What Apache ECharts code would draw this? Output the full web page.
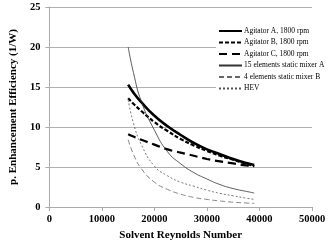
<!DOCTYPE html>
<html><head><meta charset="utf-8">
<script src="https://cdn.jsdelivr.net/npm/echarts@6/dist/echarts.min.js"></script>
<style>html,body{margin:0;padding:0;background:#fff}#c{width:335px;height:248px}</style>
</head><body><div id="c"></div>
<script>
const reynolds = [15000,16000,17500,20000,22500,25000,27500,30000,32500,35000,37500,39000];
const agitatorA = [15.3,14.3,13.1,11.4,10.1,9.0,8.0,7.2,6.6,6.0,5.5,5.25];
const agitatorB = [13.6,12.9,12.0,10.6,9.5,8.5,7.7,7.0,6.4,5.9,5.4,5.1];
const agitatorC = [9.1,8.8,8.4,7.8,7.2,6.8,6.4,6.0,5.7,5.45,5.2,5.1];
const mixer15A = [20,16.8,13.2,9.6,6.9,5.4,4.3,3.5,2.8,2.3,1.95,1.75];
const mixer4B = [8.4,6.6,4.8,3.1,2.2,1.6,1.2,0.95,0.75,0.6,0.5,0.45];
const hev = [13.4,10.5,7.8,5.1,3.9,3.1,2.6,2.1,1.7,1.4,1.1,0.95];
const names = ['Agitator A, 1800 rpm','Agitator B, 1800 rpm','Agitator C, 1800 rpm','15 elements static mixer A','4 elements static mixer B','HEV'];
const xTicks = [0,10000,20000,30000,40000,50000];
const yTicks = [0,5,10,15,20,25];

const pair = arr => reynolds.map((r,i)=>[r,arr[i]]);
const font = 'Liberation Serif';
const styles = [
  {color:'#000', width:2.6, type:'solid'},
  {color:'#000', width:2.2, type:[4,2]},
  {color:'#000', width:2.2, type:[8,5]},
  {color:'#333', width:0.8, type:'solid'},
  {color:'#666', width:0.8, type:[5,3]},
  {color:'#555', width:0.8, type:[2,2]}
];
const datasets = [agitatorA,agitatorB,agitatorC,mixer15A,mixer4B,hev];
const chart = echarts.init(document.getElementById('c'));
chart.setOption({
  animation:false,
  backgroundColor:'#fff',
  grid:{left:44,right:23,top:7,bottom:41},
  legend:{
    orient:'vertical', left:216, top:25, padding:[2,3,2,2],
    backgroundColor:'#fff', itemWidth:23, itemHeight:8, itemGap:3.5,
    itemStyle:{opacity:0},
    textStyle:{fontFamily:font,fontSize:7.5,color:'#000',padding:[0,0,0,-3]},
    data:names
  },
  xAxis:{
    type:'value', min:xTicks[0], max:xTicks[xTicks.length-1], interval:10000,
    name:'Solvent Reynolds Number', nameLocation:'middle', nameGap:22,
    nameTextStyle:{fontFamily:font,fontSize:11,fontWeight:'bold',color:'#000'},
    axisLine:{lineStyle:{color:'#aaa'}},
    axisTick:{show:true,length:4,lineStyle:{color:'#aaa'}},
    axisLabel:{fontFamily:font,fontSize:10.5,fontWeight:'bold',color:'#000',margin:7,formatter:v=>String(v)},
    splitLine:{show:false}
  },
  yAxis:{
    type:'value', min:yTicks[0], max:yTicks[yTicks.length-1], interval:5,
    name:'p. Enhancement Efficiency (1/W)', nameLocation:'middle', nameGap:18, nameRotate:90,
    nameTextStyle:{fontFamily:font,fontSize:11,fontWeight:'bold',color:'#000'},
    axisLine:{show:true,lineStyle:{color:'#aaa'}},
    axisTick:{show:true,length:4,lineStyle:{color:'#aaa'}},
    axisLabel:{fontFamily:font,fontSize:10.5,fontWeight:'bold',color:'#000',margin:9},
    splitLine:{show:true,lineStyle:{color:'#b0b0b0',width:1}}
  },
  series: datasets.map((d,i)=>({
    name:names[i], type:'line', data:pair(d), smooth:true,
    symbol:'none', showSymbol:false,
    lineStyle:styles[i], itemStyle:{color:styles[i].color}
  }))
});
</script></body></html>
